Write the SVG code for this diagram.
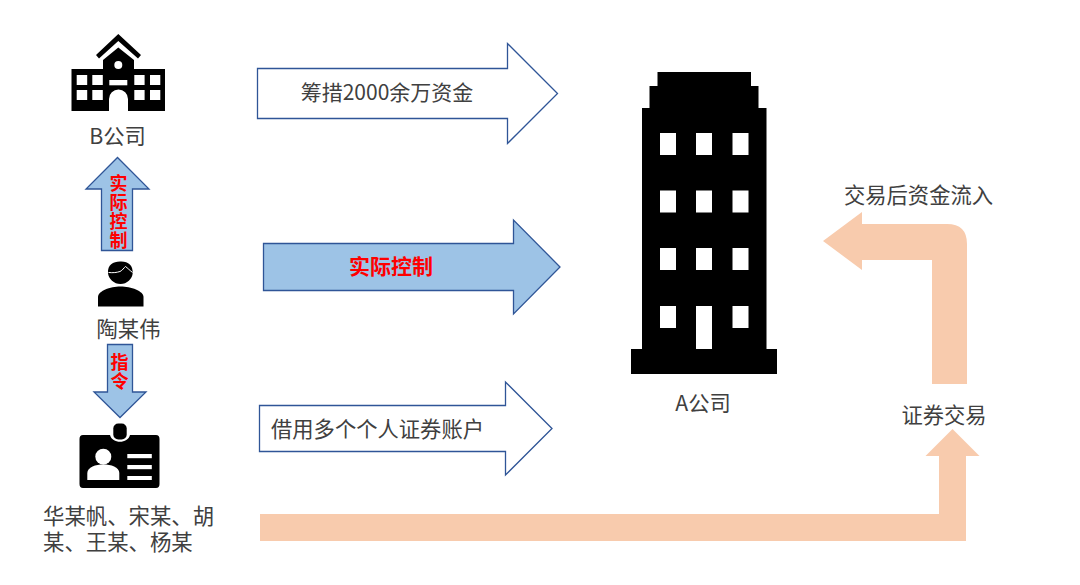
<svg xmlns="http://www.w3.org/2000/svg" width="1080" height="585" viewBox="0 0 1080 585">
<style>
text{font-family:"Noto Sans CJK SC","Noto Sans",sans-serif;fill:#404040;font-size:21.3px}
.c{text-anchor:middle}
.r{fill:#ff0000;font-weight:700;font-size:18px}
.v{writing-mode:vertical-rl;letter-spacing:1px}
.o{fill:#fff;stroke:#2f5597;stroke-width:1.3}
.b{fill:#9dc3e6;stroke:#2f5597;stroke-width:1.3}
.p{fill:#f8cbad}
.w{fill:#fff}
</style>
<rect width="1080" height="585" fill="#fff"/>
<g id="connectors">
<path class="o" d="M257.500 68.500H507.500V43.500L557.500 93.500L507.500 143.500V118.500H257.500Z"/>
<path class="b" d="M263.500 243.500H513.500V220L560 267L513.500 314V290.500H263.500Z"/>
<path class="o" d="M259.500 405.500H505.500V382L552 428.500L505.500 475V451.500H259.500Z"/>
<path class="b" d="M101.500 250.500V189H86L117.500 157.500L149 189H132.500V250.500Z"/>
<path class="b" d="M107.500 344.500H132.500V392H146L120 417.500L94 392H107.500Z"/>
<path class="p" d="M260 514H939V456H925.500L952.500 429L979.500 456H966V541H260Z"/>
<path class="p" d="M932 384V260H862V270L823 241L862 212V224H947Q967 224 967 244V384Z"/>
</g>
<g id="label-funds"><text class="c" x="387" y="100" style="font-size:21px">筹措2000余万资金</text></g>
<g id="label-control"><text class="c r" x="391" y="274" style="font-size:21px">实际控制</text></g>
<g id="label-accounts"><text x="271" y="437">借用多个个人证券账户</text></g>
<g id="label-control-v"><text class="r v" x="118.500" y="174">实际控制</text></g>
<g id="label-order"><text class="r v" x="119.500" y="353">指令</text></g>
<g id="company-b">
<path d="M96 55L118.300 34L141 55L138 58.500L118.300 41L99 58.500Z"/>
<path d="M71.500 69H103V60L118.300 47.500L134 60V69H165V111H128V99A9.500 9.500 0 0 0 109 99V111H71.500Z"/>
<circle class="w" cx="118.300" cy="65" r="4"/>
<g class="w">
<rect x="76.700" y="75" width="10.500" height="10"/><rect x="92.300" y="75" width="10.500" height="10"/>
<rect x="76.700" y="90" width="10.500" height="10"/><rect x="92.300" y="90" width="10.500" height="10"/>
<rect x="109.300" y="80" width="18" height="5.300"/>
<rect x="134.300" y="75" width="10.300" height="10"/><rect x="150" y="75" width="10.300" height="10"/>
<rect x="134.300" y="90" width="10.300" height="10"/><rect x="150" y="90" width="10.300" height="10"/>
</g>
<text class="c" x="117.500" y="143.500">B公司</text>
</g>
<g id="person">
<path d="M108 273C107.500 265 113 261.500 120 261.500C128 261 133 265 132.700 273C132.300 279 127 284 120.500 284C114 284 108.500 279 108 273Z"/>
<path d="M98 306.500V297C98 291 110 286.500 120.500 286.500C131 286.500 143.500 291 143.500 297V306.500Z"/>
<path d="M108.500 272.500C113 273 117 272.500 120 271.500C122.500 270.500 124 267.500 125.500 266.500C127.500 268 130 270.500 132.500 272.500" fill="none" stroke="#fff" stroke-width="1"/>
<text class="c" x="128.500" y="336.500">陶某伟</text>
</g>
<g id="badge">
<path d="M83 435H110C112 444 128 444 130 435H156Q159.500 435 159.500 439V484Q159.500 488 156 488H83Q79.500 488 79.500 484V439Q79.500 435 83 435Z"/>
<rect x="113.300" y="423.500" width="13.400" height="16" rx="5"/>
<circle class="w" cx="103.300" cy="456.700" r="8"/>
<path class="w" d="M87.300 480V473C87.300 467 96 464.500 103.300 464.500C111 464.500 119.300 467 119.300 473V480Z"/>
<g class="w"><rect x="127.300" y="454" width="24.500" height="4.200"/><rect x="127.300" y="465" width="24.500" height="4.200"/><rect x="127.300" y="476" width="24.500" height="4"/></g>
</g>
<g id="people-label">
<text style="font-size:21.4px"><tspan x="43" y="524">华某帆、宋某、胡</tspan><tspan x="43" y="550">某、王某、杨某</tspan></text>
</g>
<g id="company-a">
<path d="M657.500 72H751V86H758.500V108H766.500V349H777V374H631V349H642V108H649.500V86H657.500Z"/>
<g class="w">
<rect x="660" y="133" width="16" height="22"/><rect x="696" y="133" width="16" height="22"/><rect x="732.500" y="133" width="16" height="22"/>
<rect x="660" y="190.500" width="16" height="22"/><rect x="696" y="190.500" width="16" height="22"/><rect x="732.500" y="190.500" width="16" height="22"/>
<rect x="660" y="248" width="16" height="22"/><rect x="696" y="248" width="16" height="22"/><rect x="732.500" y="248" width="16" height="22"/>
<rect x="660" y="306" width="16" height="22"/><rect x="696" y="306" width="16" height="43"/><rect x="732.500" y="306" width="16" height="22"/>
</g>
<text class="c" x="703" y="411">A公司</text>
</g>
<g id="label-inflow"><text class="c" x="918.500" y="202.500">交易后资金流入</text></g>
<g id="label-trade"><text class="c" x="944" y="423">证券交易</text></g>
</svg>
